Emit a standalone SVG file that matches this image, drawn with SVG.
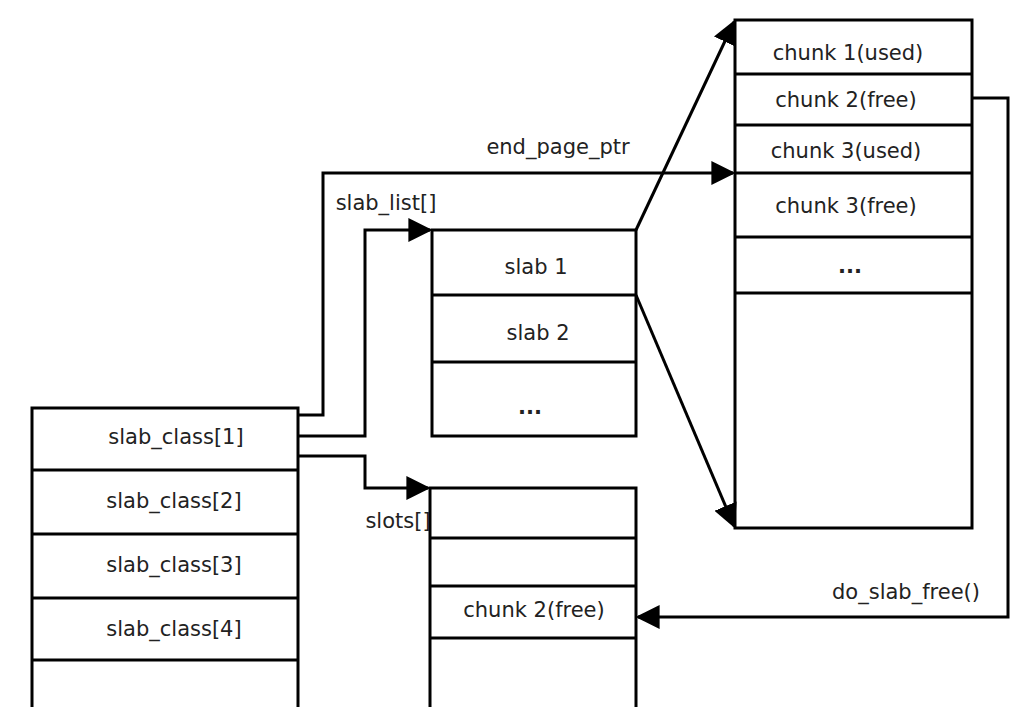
<svg xmlns="http://www.w3.org/2000/svg" width="1036" height="707" viewBox="0 0 1036 707">
<defs>
<style>
.b{fill:none;stroke:#000;stroke-width:3}
.c{fill:none;stroke:#000;stroke-width:3}
text{font-family:"DejaVu Sans",sans-serif;font-size:21px;fill:#222;text-anchor:middle}
.d{font-weight:bold}
</style>
<marker id="m" viewBox="0 0 10 10" refX="9" refY="5" markerWidth="8" markerHeight="8" orient="auto" markerUnits="strokeWidth"><path d="M0,0L10,5L0,10z" fill="#000"/></marker>
</defs>
<rect width="1036" height="707" fill="#fff"/>
<g id="slab_class">
<path class="b" d="M32,720V408H298V720M32,470H298M32,534H298M32,598H298M32,660H298"/>
<text x="176" y="444">slab_class[1]</text>
<text x="174" y="508">slab_class[2]</text>
<text x="174" y="572">slab_class[3]</text>
<text x="174" y="636">slab_class[4]</text>
</g>
<g id="slab_list">
<rect class="b" x="432" y="230" width="204" height="206"/>
<path class="b" d="M432,295H636M432,362H636"/>
<text x="536" y="274">slab 1</text>
<text x="538" y="340">slab 2</text>
<text class="d" x="530" y="414">...</text>
</g>
<g id="chunks">
<rect class="b" x="735" y="20" width="237" height="508"/>
<path class="b" d="M735,74H972M735,125H972M735,173H972M735,237H972M735,293H972"/>
<text x="848" y="60">chunk 1(used)</text>
<text x="846" y="107">chunk 2(free)</text>
<text x="846" y="158">chunk 3(used)</text>
<text x="846" y="213">chunk 3(free)</text>
<text class="d" x="850" y="273">...</text>
</g>
<g id="slots">
<path class="b" d="M430,720V488H636V720M430,538H636M430,586H636M430,638H636"/>
<text x="534" y="617">chunk 2(free)</text>
</g>
<g id="connectors">
<path class="c" marker-end="url(#m)" d="M298,415H323V173H733"/>
<path class="c" marker-end="url(#m)" d="M298,436H365V230H430"/>
<path class="c" marker-end="url(#m)" d="M298,456H365V488H428"/>
<path class="c" marker-end="url(#m)" d="M636,230L734,22"/>
<path class="c" marker-end="url(#m)" d="M636,295L734,526"/>
<path class="c" marker-end="url(#m)" d="M972,98H1008V617H638"/>
<text x="558" y="154">end_page_ptr</text>
<text x="386" y="210">slab_list[]</text>
<text x="398" y="528">slots[]</text>
<text x="906" y="599">do_slab_free()</text>
</g>
</svg>
